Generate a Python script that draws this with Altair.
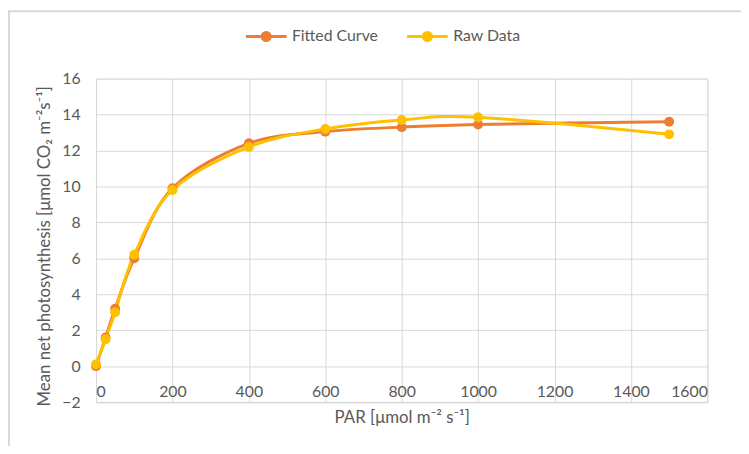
import altair as alt
import pandas as pd

par = [0, 25, 50, 100, 200, 400, 600, 800, 1000, 1500]
fitted = [0.0, 1.6, 3.2, 6.0, 9.9, 12.4, 13.05, 13.3, 13.45, 13.6]
raw = [0.1, 1.5, 3.0, 6.2, 9.8, 12.2, 13.2, 13.7, 13.85, 12.9]
series_names = ["Fitted Curve", "Raw Data"]
series_colors = ["#ED7D31", "#FFC000"]
x_ticks = [0, 200, 400, 600, 800, 1000, 1200, 1400, 1600]
y_ticks = [-2, 0, 2, 4, 6, 8, 10, 12, 14, 16]

rows = []
for i, p in enumerate(par):
    rows.append({"PAR": p, "value": fitted[i], "series": series_names[0]})
for i, p in enumerate(par):
    rows.append({"PAR": p, "value": raw[i], "series": series_names[1]})
df = pd.DataFrame(rows)

FONT = "Lato"
GRID = "#d9d9d9"
TXT = "#595959"
FS = 16
TFS = 17

cscale = alt.Scale(domain=series_names, range=series_colors)

x_enc = alt.X(
    "PAR:Q",
    scale=alt.Scale(domain=[0, 1600], nice=False),
    axis=alt.Axis(
        values=x_ticks,
        tickCount=20,
        format="d",
        title="PAR [μmol m⁻² s⁻¹]",
        grid=True,
        gridColor=GRID,
        domainColor=GRID,
        domainWidth=1.5,
        ticks=False,
        tickSize=0,
        labelPadding=-11,
        labelBaseline="middle",
        labelFontSize=FS,
        labelColor=TXT,
        labelFont=FONT,
        labelOverlap=False,
        titleFont=FONT,
        titleFontSize=TFS,
        titleFontWeight="normal",
        titleColor=TXT,
        titleY=16,
        titleBaseline="middle",
    ),
)
y_enc = alt.Y(
    "value:Q",
    scale=alt.Scale(domain=[-2, 16], nice=False),
    axis=alt.Axis(
        values=y_ticks,
        tickCount=20,
        title="Mean net photosynthesis [μmol CO₂ m⁻²s⁻¹]",
        grid=True,
        gridColor=GRID,
        domain=False,
        ticks=False,
        tickSize=0,
        labelPadding=16,
        labelFontSize=FS,
        labelColor=TXT,
        labelFont=FONT,
        labelOverlap=False,
        titleFont=FONT,
        titleFontSize=TFS,
        titleFontWeight="normal",
        titleColor=TXT,
        titleX=-52,
        titleY=169,
        titleAngle=270,
        titleAlign="center",
        titleBaseline="middle",
    ),
)

# legend symbol: a line with a solid dot (concentric stroked rings fill the dot)
symbol_path = (
    "M-1,0H1"
    "M0.2,0A0.2,0.2 0 1,0 -0.2,0A0.2,0.2 0 1,0 0.2,0"
    "M0.1,0A0.1,0.1 0 1,0 -0.1,0A0.1,0.1 0 1,0 0.1,0"
    "M0.03,0A0.03,0.03 0 1,0 -0.03,0A0.03,0.03 0 1,0 0.03,0"
)

legend = alt.Legend(
    title=None,
    orient="none",
    legendX=150,
    legendY=-65,
    direction="horizontal",
    symbolType=symbol_path,
    symbolSize=1681,
    symbolStrokeWidth=3,
    labelFont=FONT,
    labelFontSize=FS,
    labelColor=TXT,
    labelOffset=4,
    columnPadding=22,
)

base = alt.Chart(df)

lines = base.mark_line(strokeWidth=3, interpolate="cardinal").encode(
    x=x_enc,
    y=y_enc,
    color=alt.Color("series:N", scale=cscale, legend=legend),
    detail="series:N",
    order=alt.Order("PAR:Q"),
)

points = base.mark_circle(size=100, opacity=1).encode(
    x="PAR:Q",
    y="value:Q",
    color=alt.Color("series:N", scale=cscale, legend=legend),
)

frame_left = alt.Chart(pd.DataFrame({"k": [0]})).mark_rule(
    color=GRID, strokeWidth=2
).encode(x=alt.value(-88), y=alt.value(-68), y2=alt.value(400))
frame_top = alt.Chart(pd.DataFrame({"k": [0]})).mark_rule(
    color=GRID, strokeWidth=2
).encode(x=alt.value(-89), x2=alt.value(700), y=alt.value(-68))

chart = (
    alt.layer(frame_left, frame_top, lines, points)
    .properties(
        width=618,
        height=327,
        autosize=alt.AutoSizeParams(type="none"),
        padding={"left": 89, "top": 69, "right": 34, "bottom": 42},
    )
    .configure_view(stroke=None)
    .configure(background="white")
)

chart.save("out.html", embed_options={"renderer": "svg", "actions": False})
